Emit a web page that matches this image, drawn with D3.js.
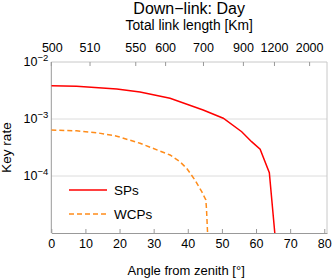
<!DOCTYPE html>
<html>
<head>
<meta charset="utf-8">
<script src="https://cdn.jsdelivr.net/npm/d3@7"></script>
<style>
  body { margin: 0; background: #fff; }
  text { font-family: "Liberation Sans", Arial, sans-serif; fill: #000; }
</style>
</head>
<body>
<svg id="canvas" width="332" height="279"></svg>
<script>
// data
const spsAngle = [0, 7.4, 19.2, 26, 34.8, 44.5, 50.4, 55.8, 58.7, 61.2, 63.9, 65.5]
const spsRate = [3.84e-3, 3.75e-3, 3.36e-3, 2.98e-3, 2.31e-3, 1.44e-3, 1.03e-3, 5.98e-4, 4.0e-4, 2.94e-4, 1.14e-4, 1e-5]

const wcpAngle = [0, 7.4, 13.3, 19.2, 26, 34.8, 37.7, 39.7, 42.1, 44.1, 45.3, 45.5, 45.8]
const wcpRate = [6.4e-4, 6.2e-4, 5.75e-4, 5.0e-4, 3.75e-4, 2.34e-4, 1.78e-4, 1.36e-4, 8.5e-5, 5.3e-5, 3.8e-5, 2.5e-5, 1e-5]

const angleTicks = [0, 10, 20, 30, 40, 50, 60, 70, 80]
const rateTicks = [1e-2, 1e-3, 1e-4]
const rateExponents = ["−2", "−3", "−4"]

// top axis: link length labels and the angle they sit at
const linkLengthLabels = [500, 510, 550, 600, 700, 900, 1200, 2000]
const linkLengthAngles = [0, 11.35, 24.75, 33.5, 44.6, 56.3, 65.4, 75.7]

const seriesNames = ["SPs", "WCPs"]

const margin = {top: 62, right: 5, bottom: 46, left: 51.3}
const W = 332, H = 279
const width = W - margin.left - margin.right, height = H - margin.top - margin.bottom

const svg = d3.select("#canvas")
const g = svg.append("g").attr("transform", `translate(${margin.left}, ${margin.top})`)

const x = d3.scaleLinear().domain([0, 80.8]).range([0, width])
const y = d3.scaleLog().domain([1e-5, 1e-2]).range([height, 0])

//grid lines
g.selectAll(".grid").data(rateTicks.slice(1)).enter().append("line")
    .attr("x1", 0).attr("x2", width)
    .attr("y1", d => y(d)).attr("y2", d => y(d))
    .attr("stroke", "#dcdcdc").attr("stroke-width", 1)

//frame top and right
g.append("line").attr("x1", 0).attr("x2", width).attr("y1", 0).attr("y2", 0)
    .attr("stroke", "#c8c8c8")
g.append("line").attr("x1", width).attr("x2", width).attr("y1", 0).attr("y2", height)
    .attr("stroke", "#c8c8c8")

//bottom axis
const xAxis = g.append("g").attr("transform", `translate(0, ${height})`)
    .call(d3.axisBottom(x).tickValues(angleTicks).tickSizeInner(-4).tickSizeOuter(0).tickPadding(6))
xAxis.select(".domain").attr("stroke", "#999")
xAxis.selectAll(".tick line").attr("stroke", "#999")
xAxis.selectAll("text").attr("font-size", 12.5).attr("font-family", "Liberation Sans, Arial, sans-serif").attr("fill", "#000")

//top axis
const topAxis = g.append("g")
topAxis.selectAll("line").data(linkLengthAngles).enter().append("line")
    .attr("x1", d => x(d)).attr("x2", d => x(d))
    .attr("y1", 0).attr("y2", 4)
    .attr("stroke", "#999")
topAxis.selectAll("text").data(linkLengthLabels).enter().append("text")
    .attr("x", (d, i) => x(linkLengthAngles[i]) + (i === 0 ? 1 : 0))
    .attr("y", -10.3)
    .attr("text-anchor", "middle")
    .attr("font-size", 12.5)
    .text(d => d)

//left axis
g.append("line").attr("x1", 0).attr("x2", 0).attr("y1", 0).attr("y2", height)
    .attr("stroke", "#999")
const yLabels = g.selectAll(".ylab").data(rateTicks).enter().append("text")
    .attr("class", "ylab")
    .attr("x", -3)
    .attr("y", d => y(d) + 4.3)
    .attr("text-anchor", "end")
    .attr("font-size", 12.5)
    .text("10")
yLabels.append("tspan")
    .attr("dy", -5)
    .attr("font-size", 9.5)
    .text((d, i) => rateExponents[i])

//lines
g.append("clipPath").attr("id", "clip").append("rect")
    .attr("width", width).attr("height", height)

const line = d3.line().x(d => x(d[0])).y(d => y(d[1]))
const plot = g.append("g").attr("clip-path", "url(#clip)")

plot.append("path")
    .datum(d3.zip(wcpAngle, wcpRate))
    .attr("d", line)
    .attr("fill", "none")
    .attr("stroke", "#ff8c1a")
    .attr("stroke-width", 1.5)
    .attr("stroke-dasharray", "5,3")

plot.append("path")
    .datum(d3.zip(spsAngle, spsRate))
    .attr("d", line)
    .attr("fill", "none")
    .attr("stroke", "#ff0000")
    .attr("stroke-width", 1.5)

//legend
const legend = svg.append("g")
const legendStyle = [{color: "#ff0000", dash: null}, {color: "#ff8c1a", dash: "5,3"}]
seriesNames.forEach((name, i) => {
    const ly = 190 + i * 24
    legend.append("line")
        .attr("x1", 69).attr("x2", 107).attr("y1", ly).attr("y2", ly)
        .attr("stroke", legendStyle[i].color)
        .attr("stroke-width", 1.5)
        .attr("stroke-dasharray", legendStyle[i].dash)
    legend.append("text")
        .attr("x", 114).attr("y", ly + 5)
        .attr("font-size", 13.5)
        .text(name)
})

//titles
const cx = margin.left + width / 2
svg.append("text").attr("x", cx).attr("y", 13.5).attr("text-anchor", "middle")
    .attr("font-size", 16).text("Down−link: Day")
svg.append("text").attr("x", cx).attr("y", 29.5).attr("text-anchor", "middle")
    .attr("font-size", 13.8).text("Total link length [Km]")
svg.append("text").attr("x", cx - 3).attr("y", 274.5).attr("text-anchor", "middle")
    .attr("font-size", 13).text("Angle from zenith [°]")
svg.append("text")
    .attr("transform", `translate(11, ${margin.top + height / 2}) rotate(-90)`)
    .attr("text-anchor", "middle")
    .attr("font-size", 13.5).text("Key rate")
</script>
</body>
</html>
